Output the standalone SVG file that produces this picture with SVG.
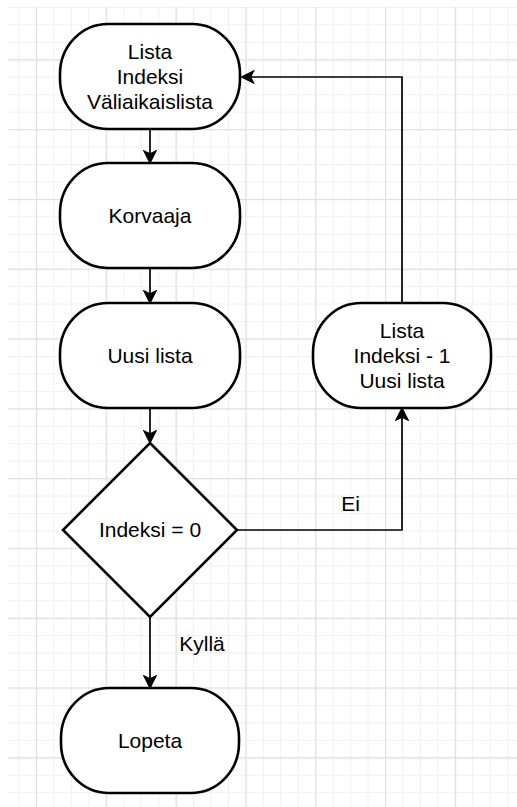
<svg xmlns="http://www.w3.org/2000/svg" width="517" height="807" viewBox="0 0 517 807">
  <style>
    .node { fill: #ffffff; stroke: #000000; stroke-width: 2.6; }
    .edge { fill: none; stroke: #000000; stroke-width: 1.7; }
    .label { font-family: "Liberation Sans", Arial, sans-serif; font-size: 21px; fill: #000000; text-anchor: middle; dominant-baseline: central; }
  </style>
  <defs>
    <!-- background grid: fine lines every 17.45px, heavier every 4 cells -->
    <pattern id="gridMinor" patternUnits="userSpaceOnUse" x="36" y="59.3" width="17.45" height="17.45">
      <rect x="0" y="0" width="1" height="17.45" fill="#f0f0f0"/>
      <rect x="0" y="0" width="17.45" height="1" fill="#f0f0f0"/>
    </pattern>
    <pattern id="gridMajor" patternUnits="userSpaceOnUse" x="36" y="59.3" width="69.8" height="69.8">
      <rect x="0" y="0" width="1.2" height="69.8" fill="#e0e0e0"/>
      <rect x="0" y="0" width="69.8" height="1.2" fill="#e0e0e0"/>
    </pattern>
    <!-- classic notched arrowhead; line ends at the notch -->
    <marker id="arrow" markerUnits="userSpaceOnUse" viewBox="-1 -1 14.2 14.2" refX="3.05" refY="6.1" markerWidth="14.2" markerHeight="14.2" orient="auto">
      <path d="M12.2,6.1 L0,0 L3.05,6.1 L0,12.2 Z" fill="#000000" stroke="#000000" stroke-width="1.2" stroke-linejoin="miter"/>
    </marker>
  </defs>

  <rect x="0" y="0" width="517" height="807" fill="#ffffff"/>
  <rect x="8" y="7" width="509" height="800" fill="url(#gridMinor)"/>
  <rect x="8" y="7" width="509" height="800" fill="url(#gridMajor)"/>

  <g id="connectors">
    <path class="edge" d="M150,129 L150,153.9" marker-end="url(#arrow)"/>
    <path class="edge" d="M150,268 L150,293.9" marker-end="url(#arrow)"/>
    <path class="edge" d="M150,408 L150,433.9" marker-end="url(#arrow)"/>
    <path class="edge" d="M150,617 L150,678.9" marker-end="url(#arrow)"/>
    <path class="edge" d="M237,530 L402,530 L402,417.1" marker-end="url(#arrow)"/>
    <path class="edge" d="M402,303 L402,77 L250.6,77" marker-end="url(#arrow)"/>
    <text class="label" x="202" y="643.5">Kyllä</text>
    <text class="label" x="350.5" y="503.5">Ei</text>
  </g>

  <g id="start">
    <rect class="node" x="60" y="24" width="180" height="105" rx="48" ry="50"/>
    <text class="label" x="150" y="51.5">Lista</text>
    <text class="label" x="150" y="76.5">Indeksi</text>
    <text class="label" x="150" y="101.5">Väliaikaislista</text>
  </g>

  <g id="korvaaja">
    <rect class="node" x="60" y="163" width="180" height="105" rx="48" ry="50"/>
    <text class="label" x="150" y="215.5">Korvaaja</text>
  </g>

  <g id="uusi-lista">
    <rect class="node" x="60" y="303" width="180" height="105" rx="48" ry="50"/>
    <text class="label" x="150" y="355.5">Uusi lista</text>
  </g>

  <g id="ehto">
    <polygon class="node" points="150,443 237,530 150,617 63,530"/>
    <text class="label" x="150" y="529.5">Indeksi = 0</text>
  </g>

  <g id="lopeta">
    <rect class="node" x="61" y="688" width="178" height="105" rx="48" ry="50"/>
    <text class="label" x="150" y="740">Lopeta</text>
  </g>

  <g id="seuraava">
    <rect class="node" x="313" y="303" width="178" height="105" rx="48" ry="50"/>
    <text class="label" x="402" y="330.5">Lista</text>
    <text class="label" x="402" y="355.5">Indeksi - 1</text>
    <text class="label" x="402" y="380.5">Uusi lista</text>
  </g>
</svg>
